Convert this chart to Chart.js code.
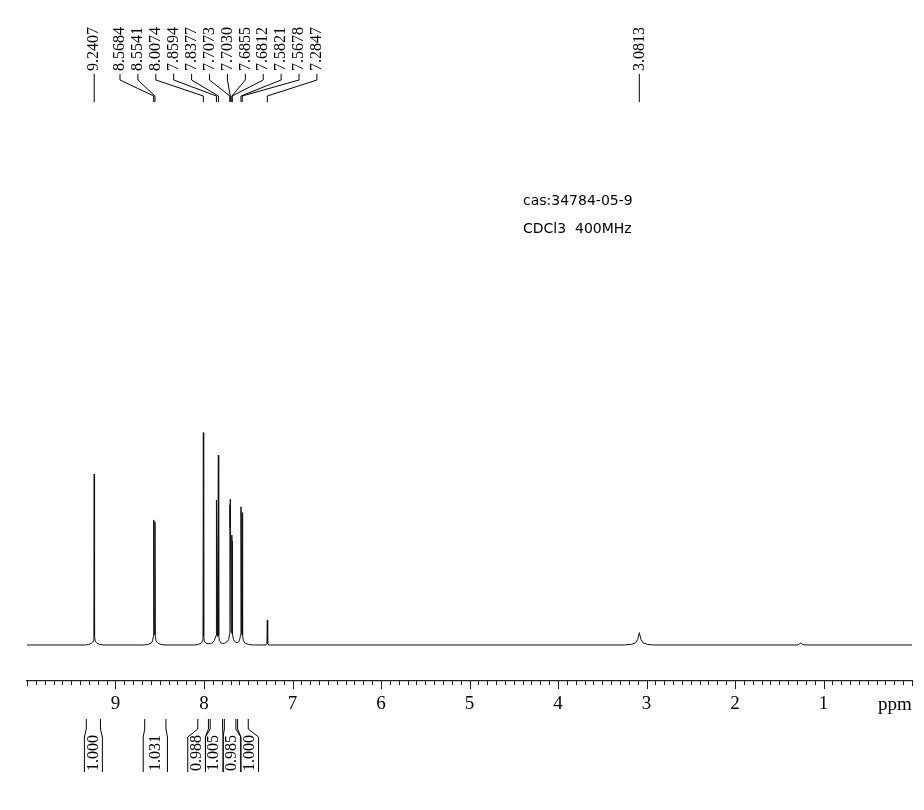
<!DOCTYPE html>
<html><head><meta charset="utf-8">
<script src="https://cdn.jsdelivr.net/npm/chart.js@4.4.1/dist/chart.umd.min.js"></script>
<style>html,body{margin:0;padding:0;background:#fff;}canvas{display:block;}</style>
</head><body>
<canvas id="c" width="924" height="810"></canvas>
<script>
// Spectrum trace (ppm, relative intensity)
const tracePpm = [10.00,
  9.34, 9.30, 9.27, 9.252, 9.2447, 9.2407, 9.2367, 9.229, 9.21, 9.18, 9.14,
  8.68, 8.63, 8.60, 8.582, 8.5724, 8.5684, 8.5612, 8.5541, 8.5501, 8.541, 8.52, 8.49, 8.44,
  8.10, 8.06, 8.035, 8.019, 8.0114, 8.0074, 8.0034, 7.996, 7.98, 7.955,
  7.93, 7.905, 7.884, 7.8634, 7.8594, 7.8485, 7.8377, 7.8337, 7.826, 7.81, 7.79,
  7.77, 7.745, 7.722, 7.7113, 7.7073, 7.7051, 7.7030, 7.6943, 7.6855, 7.6834, 7.6812, 7.6772, 7.666, 7.645, 7.625,
  7.605, 7.594, 7.5861, 7.5821, 7.575, 7.5678, 7.5638, 7.555, 7.535, 7.50, 7.45,
  7.30, 7.289, 7.2847, 7.2805, 7.27,
  3.25, 3.17, 3.125, 3.10, 3.0813, 3.062, 3.037, 2.99, 2.92,
  1.29, 1.255, 1.235, 1.20, 0.00];
const traceIntensity = [0,
  0, 0.3, 0.8, 1.8, 4, 80.5, 4, 1.8, 0.8, 0.3, 0,
  0, 0.3, 0.8, 1.8, 4, 58.9, 5, 58.1, 4, 1.8, 0.8, 0.3, 0,
  0, 0.3, 0.8, 1.8, 4, 100, 4, 1.8, 0.9, 0.6,
  0.7, 1, 2, 4.5, 68.3, 4, 89.5, 4.5, 2, 1, 0.7,
  0.8, 1.3, 2.5, 5, 66, 55, 68.6, 6, 51.8, 42, 49, 5, 2.5, 1.3, 1,
  1.6, 3, 5, 65.1, 5, 62.3, 4.5, 2, 0.8, 0.3, 0,
  0, 0.6, 11.8, 0.6, 0,
  0, 0.3, 1, 2.5, 5.8, 2.5, 1, 0.3, 0,
  0, 1.0, 0.2, 0, 0];

// Peak labels (top)
const peakLabels = ["9.2407", "8.5684", "8.5541", "8.0074", "7.8594", "7.8377", "7.7073",
  "7.7030", "7.6855", "7.6812", "7.5821", "7.5678", "7.2847", "3.0813"];

// Integrals (bottom)
const integralFrom = [9.33, 8.67, 8.07, 7.93, 7.77, 7.62];
const integralTo = [9.17, 8.43, 7.95, 7.79, 7.64, 7.50];
const integralValues = ["1.000", "1.031", "0.988", "1.005", "0.985", "1.000"];

// Axis
const axisMin = 0, axisMax = 10, axisStep = 0.1;
const axisUnit = "ppm";
const annotationLines = ["cas:34784-05-9", "CDCl3  400MHz"];

const SERIF = '"Liberation Serif", "Times New Roman", serif';

function spread(xs, gap) {
  const idx = xs.map((x, i) => i).sort((a, b) => xs[a] - xs[b]);
  let groups = idx.map(i => ({ members: [i], center: xs[i] }));
  let changed = true;
  while (changed) {
    changed = false;
    for (let g = 0; g < groups.length - 1; g++) {
      const a = groups[g], b = groups[g + 1];
      const aRight = a.center + (a.members.length - 1) * gap / 2;
      const bLeft = b.center - (b.members.length - 1) * gap / 2;
      if (bLeft - aRight < gap) {
        const members = a.members.concat(b.members);
        const center = members.reduce((s, i) => s + xs[i], 0) / members.length;
        groups.splice(g, 2, { members, center });
        changed = true; break;
      }
    }
  }
  const out = new Array(xs.length);
  const size = new Array(xs.length);
  groups.forEach(g => g.members.forEach((i, k) => {
    out[i] = g.center + (k - (g.members.length - 1) / 2) * gap;
    size[i] = g.members.length;
  }));
  out.groupSize = size;
  return out;
}

const isInt = v => Math.abs(v - Math.round(v)) < 1e-6;

const nmrPlugin = {
  id: 'nmr',
  beforeDraw(chart) {
    const ctx = chart.ctx;
    ctx.save(); ctx.fillStyle = '#fff'; ctx.fillRect(0, 0, chart.width, chart.height); ctx.restore();
  },
  afterDraw(chart) {
    const ctx = chart.ctx;
    const xs = chart.scales.x;
    const bottom = chart.chartArea.bottom;
    ctx.save();
    ctx.strokeStyle = '#222'; ctx.lineWidth = 1;
    // tick marks
    xs.ticks.forEach(t => {
      const v = t.value;
      const px = Math.round(xs.getPixelForValue(v)) + 0.5;
      let len = 4;
      if (isInt(v) && Math.round(v) > axisMin && Math.round(v) < axisMax) len = 8;
      else if (isInt(v)) len = 5;
      ctx.beginPath(); ctx.moveTo(px, bottom); ctx.lineTo(px, bottom + len); ctx.stroke();
    });
    // unit label
    ctx.fillStyle = '#000';
    ctx.font = '19px ' + SERIF;
    ctx.textAlign = 'center'; ctx.textBaseline = 'middle';
    ctx.fillText(axisUnit, xs.getPixelForValue(axisMin) - 17, 705);

    // peak labels
    const peakPpm = peakLabels.map(Number);
    const peakPx = peakPpm.map(p => xs.getPixelForValue(p));
    const slots = spread(peakPx, 17.9);
    ctx.font = '16px ' + SERIF;
    ctx.strokeStyle = '#000'; ctx.lineWidth = 1;
    peakLabels.forEach((lab, i) => {
      const lx = slots[i], px = peakPx[i];
      ctx.save(); ctx.translate(lx, 71); ctx.rotate(-Math.PI / 2);
      ctx.textAlign = 'left'; ctx.textBaseline = 'middle'; ctx.fillText(lab, 0, 0);
      ctx.restore();
      ctx.beginPath(); ctx.moveTo(lx, 74); ctx.lineTo(lx, 80); ctx.lineTo(px, 96); ctx.lineTo(px, 102); ctx.stroke();
    });

    // integrals
    const gap = 17.7;
    const iL = integralFrom.map(p => xs.getPixelForValue(p));
    const iR = integralTo.map(p => xs.getPixelForValue(p));
    const iC = iL.map((l, i) => (l + iR[i]) / 2);
    const iSlots = spread(iC, gap);
    integralValues.forEach((lab, i) => {
      const c = iSlots[i];
      const xl = iL[i], xr = iR[i];
      let bl, br;
      if (iSlots.groupSize[i] > 1) { bl = c - gap / 2; br = c + gap / 2; }
      else { bl = Math.min(xl - 1.5, c - 9); br = Math.max(xr + 1.5, c + 9); }
      ctx.beginPath();
      ctx.moveTo(xl, 719); ctx.lineTo(xl, 729); ctx.lineTo(bl, 737); ctx.lineTo(bl, 772);
      ctx.moveTo(xr, 719); ctx.lineTo(xr, 729); ctx.lineTo(br, 737); ctx.lineTo(br, 772);
      ctx.stroke();
      ctx.save(); ctx.translate(c, 771); ctx.rotate(-Math.PI / 2);
      ctx.textAlign = 'left'; ctx.textBaseline = 'middle'; ctx.fillText(lab, 0, 0);
      ctx.restore();
    });

    // annotation
    ctx.font = '14px "DejaVu Sans", sans-serif';
    ctx.textAlign = 'left'; ctx.textBaseline = 'middle';
    ctx.fillStyle = '#000';
    annotationLines.forEach((t, i) => ctx.fillText(t, 523, 201 + i * 28));
    ctx.restore();
  }
};

new Chart(document.getElementById('c'), {
  type: 'line',
  data: {
    datasets: [{
      data: tracePpm.map((p, i) => ({ x: p, y: traceIntensity[i] })),
      borderColor: '#111', borderWidth: 1, pointRadius: 0, tension: 0, fill: false
    }]
  },
  options: {
    responsive: false, animation: false,
    layout: { padding: { left: 27, right: 10, top: 110, bottom: 0 } },
    plugins: { legend: { display: false }, tooltip: { enabled: false } },
    scales: {
      x: {
        type: 'linear', reverse: true, min: axisMin, max: axisMax,
        afterFit: s => { s.height = 129; },
        grid: { display: false, drawTicks: false },
        border: { display: true, color: '#222', width: 1.2 },
        ticks: {
          stepSize: axisStep, autoSkip: false, maxTicksLimit: 1000, maxRotation: 0, minRotation: 0,
          padding: 12, color: '#000', font: { family: SERIF, size: 19 },
          callback: v => (isInt(v) && Math.round(v) > axisMin && Math.round(v) < axisMax) ? String(Math.round(v)) : ''
        }
      },
      y: { display: false, min: -16.96, max: 252 }
    }
  },
  plugins: [nmrPlugin]
});
</script>
</body></html>
